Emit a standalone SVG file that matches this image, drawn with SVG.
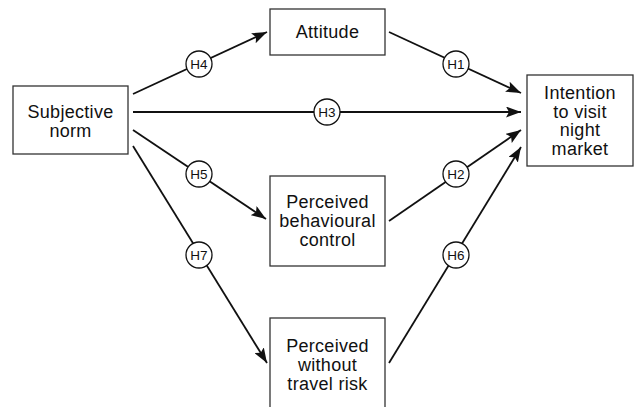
<svg xmlns="http://www.w3.org/2000/svg" width="634" height="407" viewBox="0 0 634 407">
<defs>
<marker id="ah" markerWidth="15" markerHeight="11" refX="15" refY="5.5" orient="auto" markerUnits="userSpaceOnUse">
<path d="M0,0 L15,5.5 L0,11 L3,5.5 Z" fill="#111"/>
</marker>
</defs>
<style>
.box{fill:#fff;stroke:#333;stroke-width:1.3}
.t{font-family:"Liberation Sans",Arial,sans-serif;font-size:18px;letter-spacing:0.3px;fill:#111;text-anchor:middle}
.c{fill:#fff;stroke:#111;stroke-width:1.3}
.ct{font-family:"Liberation Sans",Arial,sans-serif;font-size:13.5px;fill:#111;text-anchor:middle}
.ln{stroke:#111;stroke-width:1.8;fill:none;marker-end:url(#ah)}
</style>
<rect width="634" height="407" fill="#fff"/>
<g id="connectors">
<line class="ln" x1="133" y1="94" x2="267" y2="32"/>
<line class="ln" x1="133" y1="112" x2="521" y2="112"/>
<line class="ln" x1="133" y1="130" x2="266" y2="219"/>
<line class="ln" x1="133" y1="146" x2="267" y2="363"/>
<line class="ln" x1="389" y1="32" x2="521" y2="93"/>
<line class="ln" x1="389" y1="221" x2="521" y2="130"/>
<line class="ln" x1="389" y1="363" x2="521" y2="147"/>
<g id="H4"><circle class="c" cx="199" cy="64" r="13"/><text class="ct" x="199" y="69">H4</text></g>
<g id="H3"><circle class="c" cx="327" cy="112" r="13"/><text class="ct" x="327" y="117">H3</text></g>
<g id="H5"><circle class="c" cx="199" cy="174" r="13"/><text class="ct" x="199" y="179">H5</text></g>
<g id="H7"><circle class="c" cx="199" cy="255" r="13"/><text class="ct" x="199" y="260">H7</text></g>
<g id="H1"><circle class="c" cx="456" cy="64" r="13"/><text class="ct" x="456" y="69">H1</text></g>
<g id="H2"><circle class="c" cx="456" cy="174" r="13"/><text class="ct" x="456" y="179">H2</text></g>
<g id="H6"><circle class="c" cx="456" cy="255" r="13"/><text class="ct" x="456" y="260">H6</text></g>
</g>
<g id="subjective-norm">
<rect class="box" x="13" y="86" width="115" height="68"/>
<text class="t" x="70.5" y="118">Subjective</text>
<text class="t" x="70.5" y="137">norm</text>
</g>
<g id="attitude">
<rect class="box" x="270" y="9" width="115" height="46"/>
<text class="t" x="327.5" y="38">Attitude</text>
</g>
<g id="intention">
<rect class="box" x="527" y="75" width="106" height="91"/>
<text class="t" x="580" y="99">Intention</text>
<text class="t" x="580" y="117.5">to visit</text>
<text class="t" x="580" y="136">night</text>
<text class="t" x="580" y="155">market</text>
</g>
<g id="pbc">
<rect class="box" x="270" y="176" width="115" height="90"/>
<text class="t" x="327.5" y="208">Perceived</text>
<text class="t" x="327.5" y="227">behavioural</text>
<text class="t" x="327.5" y="246">control</text>
</g>
<g id="pwtr">
<rect class="box" x="270" y="318" width="115" height="100"/>
<text class="t" x="327.5" y="351.5">Perceived</text>
<text class="t" x="327.5" y="370.5">without</text>
<text class="t" x="327.5" y="389.5">travel risk</text>
</g>
</svg>
